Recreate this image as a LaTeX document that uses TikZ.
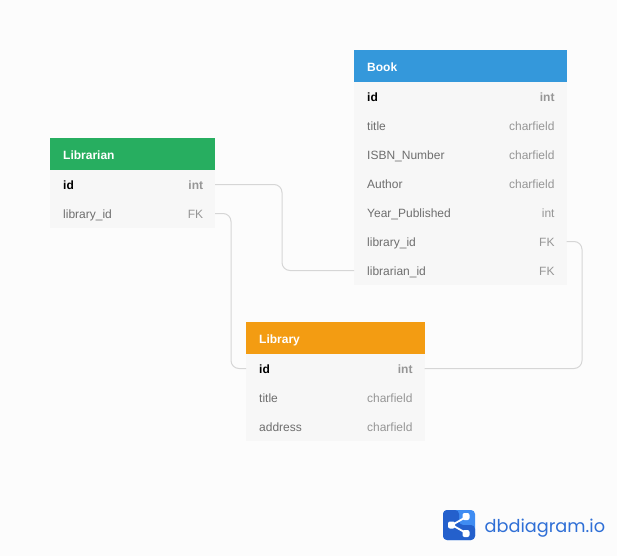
\documentclass[tikz,border=0pt]{standalone}
\usepackage{fontspec}
\setmainfont{Liberation Sans}
\newfontfamily\logofont{Poppins}
\definecolor{pagebg}{HTML}{FCFCFC}
\definecolor{rowbg}{HTML}{F7F7F7}
\definecolor{linkc}{HTML}{D6D6D6}
\definecolor{namec}{HTML}{6E6E6E}
\definecolor{typec}{HTML}{969696}
\definecolor{bookc}{HTML}{3498DB}
\definecolor{librarianc}{HTML}{27AE60}
\definecolor{libraryc}{HTML}{F39C12}
\definecolor{logod}{HTML}{2460CC}
\definecolor{logol}{HTML}{3F8CF2}
\definecolor{logot}{HTML}{2F6FD6}
\tikzset{
  head/.style={draw=none,inner sep=0pt,outer sep=0pt,minimum height=32pt,anchor=north west},
  rowbox/.style={fill=rowbg,draw=none,inner sep=0pt,outer sep=0pt,minimum height=29pt,anchor=north west},
  headtext/.style={anchor=base west,inner sep=0pt,text=white,font=\fontsize{12}{14}\selectfont\bfseries},
  fname/.style={anchor=base west,inner sep=0pt,text=namec,font=\fontsize{12}{14}\selectfont},
  ftype/.style={anchor=base east,inner sep=0pt,text=typec,font=\fontsize{12}{14}\selectfont},
  pkname/.style={anchor=base west,inner sep=0pt,text=black,font=\fontsize{12}{14}\selectfont\bfseries},
  pktype/.style={anchor=base east,inner sep=0pt,text=typec,font=\fontsize{12}{14}\selectfont\bfseries},
  link/.style={draw=linkc,line width=1pt,rounded corners=8pt},
}
\begin{document}
\begin{tikzpicture}[x=1pt,y=-1pt]
\useasboundingbox (0,0) rectangle (617,556);
\fill[pagebg] (0,0) rectangle (617,556);

% Book
\node[head,fill=bookc,minimum width=212.5pt] (bookH) at (354,50) {};
\node[headtext] (bookT) at (367,71.6) {Book};
\foreach \nm/\yy in {bookA/82,bookB/111,bookC/140,bookD/169,bookE/198,bookF/227,bookG/256}
  \node[rowbox,minimum width=212.5pt] (\nm) at (354,\yy) {};
\node[pkname] (bookA1) at (367,101.6) {id};
\node[pktype] (bookA2) at (554.7,101.6) {int};
\node[fname] (bookB1) at (367,130.6) {title};
\node[ftype] (bookB2) at (554.7,130.6) {charfield};
\node[fname] (bookC1) at (367,159) {ISBN\_Number};
\node[ftype] (bookC2) at (554.7,159) {charfield};
\node[fname] (bookD1) at (367,188) {Author};
\node[ftype] (bookD2) at (554.7,188) {charfield};
\node[fname] (bookE1) at (367,217) {Year\_Published};
\node[ftype] (bookE2) at (554.7,217) {int};
\node[fname] (bookF1) at (367,246) {library\_id};
\node[ftype] (bookF2) at (554.7,246) {FK};
\node[fname] (bookG1) at (367,275) {librarian\_id};
\node[ftype] (bookG2) at (554.7,275) {FK};

% Librarian
\node[head,fill=librarianc,minimum width=165pt] (lanH) at (50,138) {};
\node[headtext] (lanT) at (63,159) {Librarian};
\foreach \nm/\yy in {lanA/170,lanB/199}
  \node[rowbox,minimum width=165pt] (\nm) at (50,\yy) {};
\node[pkname] (lanA1) at (63,189) {id};
\node[pktype] (lanA2) at (203.3,189) {int};
\node[fname] (lanB1) at (63,218) {library\_id};
\node[ftype] (lanB2) at (203.3,218) {FK};

% Library
\node[head,fill=libraryc,minimum width=178.5pt] (libH) at (246,322) {};
\node[headtext] (libT) at (259,343) {Library};
\foreach \nm/\yy in {libA/354,libB/383,libC/412}
  \node[rowbox,minimum width=178.5pt] (\nm) at (246,\yy) {};
\node[pkname] (libA1) at (259,373) {id};
\node[pktype] (libA2) at (412.7,373) {int};
\node[fname] (libB1) at (259,402) {title};
\node[ftype] (libB2) at (412.7,402) {charfield};
\node[fname] (libC1) at (259,431) {address};
\node[ftype] (libC2) at (412.7,431) {charfield};

% Connectors
\coordinate (bendA) at (282,228);
\coordinate (bendB) at (231,290);
\coordinate (bendC) at (582,305);
\draw[link] (lanA.east) -| (bendA) |- (bookG.west);
\draw[link] (lanB.east) -| (bendB) |- (libA.west);
\draw[link] (bookF.east) -| (bendC) |- (libA.east);

% Logo
\fill[logol,rounded corners=4pt] (443,510) rectangle (475,540);
\fill[logod,rounded corners=4pt] (443,510) -- (459,510) -- (459,525) -- (475,525) -- (475,540) -- (443,540) -- cycle;
\draw[white,line width=1.8pt] (466,517) -- (452,525) -- (466,533);
\fill[white,rounded corners=2pt] (462.5,513) rectangle (469.5,520);
\fill[white,rounded corners=2pt] (448,521.5) rectangle (455,528.5);
\fill[white,rounded corners=2pt] (462.5,530) rectangle (469.5,537);
\node[anchor=base west,inner sep=0pt,text=logot,font=\logofont\fontsize{17.7}{22}\selectfont] (logoT) at (484.5,532) {dbdiagram.io};
\end{tikzpicture}
\end{document}
